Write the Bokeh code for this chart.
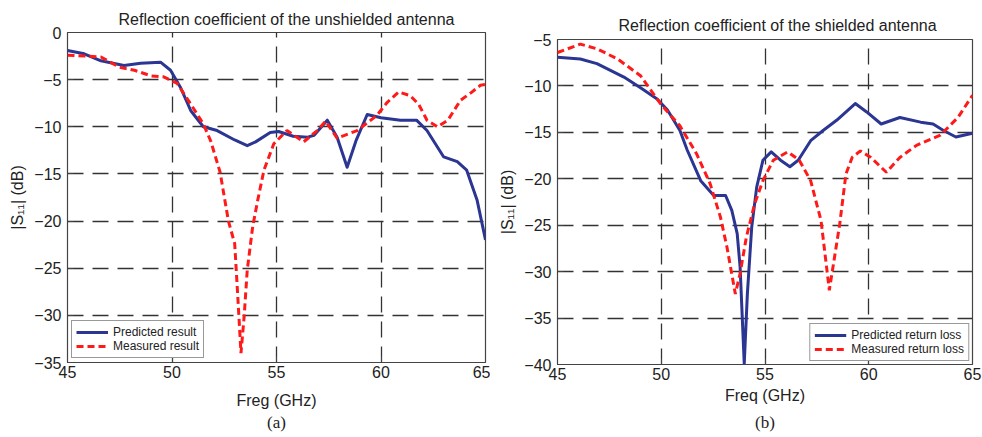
from bokeh.plotting import figure
from bokeh.models import Legend, LegendItem, Range1d, FixedTicker, LinearAxis
from bokeh.layouts import row
from bokeh.embed import file_html
from bokeh.resources import INLINE

# ---- data: (a) unshielded antenna ----
a_pred_f = [45.0, 45.8, 46.6, 47.7, 48.5, 49.45, 49.93, 50.4, 50.9, 51.5, 52.16, 53.0, 53.6,
            54.0, 54.7, 55.1, 55.8, 56.5, 56.8, 57.43, 57.9, 58.38, 58.8, 59.34, 60.0,
            60.93, 61.7, 62.2, 63.0, 63.65, 64.1, 64.6, 65.0]
a_pred_db = [-1.9, -2.26, -3.0, -3.5, -3.25, -3.15, -4.0, -5.8, -8.3, -10.0, -10.4, -11.4, -12.0,
             -11.6, -10.6, -10.5, -11.0, -11.1, -10.9, -9.3, -11.1, -14.3, -11.5, -8.7, -9.05,
             -9.3, -9.3, -10.4, -13.2, -13.7, -14.6, -17.8, -22.0]
a_meas_f = [45.0, 45.95, 46.6, 47.5, 48.2, 49.0, 49.6, 50.25, 50.9, 51.5, 51.85, 52.3, 52.7, 53.0,
            53.14, 53.3, 53.45, 53.6, 53.86, 54.1, 54.4, 54.87, 55.5, 56.3, 56.95, 57.35,
            57.9, 58.86, 59.8, 60.3, 60.85, 61.4, 61.8, 62.2, 62.7, 63.2, 63.8, 64.3, 64.76, 65.0]
a_meas_db = [-2.4, -2.5, -2.6, -3.7, -4.0, -4.6, -4.7, -5.4, -7.6, -9.7, -11.5, -14.8, -20.0, -22.4,
             -27.7, -34.0, -30.2, -25.2, -20.6, -17.8, -14.6, -11.8, -10.4, -11.6, -10.4, -9.4,
             -11.2, -10.4, -8.8, -7.4, -6.3, -6.7, -7.6, -9.3, -10.0, -9.3, -7.2, -6.4, -5.6, -5.5]

# ---- data: (b) shielded antenna ----
b_pred_f = [45.0, 46.1, 46.9, 48.2, 49.0, 49.8, 50.3, 50.9, 51.25, 51.9, 52.53, 53.1, 53.4, 53.66,
            53.8, 54.0, 54.15, 54.36, 54.6, 54.9, 55.3, 55.75, 56.2, 56.6, 57.2, 57.8, 58.45, 58.8,
            59.35, 59.9, 60.6, 61.5, 62.5, 63.1, 63.6, 64.2, 65.0]
b_pred_db = [-6.9, -7.1, -7.6, -9.05, -10.2, -11.4, -12.6, -14.8, -16.9, -20.2, -21.8, -21.8, -23.4, -25.9,
             -29.5, -39.9, -32.4, -25.2, -20.9, -18.0, -17.1, -18.0, -18.7, -18.0, -15.9, -14.8, -13.7, -13.0,
             -11.9, -12.8, -14.1, -13.4, -13.9, -14.1, -14.8, -15.5, -15.1]
b_meas_f = [45.0, 46.1, 46.9, 47.9, 49.0, 49.96, 50.9, 51.7, 52.35, 52.85, 53.17, 53.57, 53.8, 54.1,
            54.5, 54.9, 55.4, 56.1, 56.65, 57.2, 57.7, 58.1, 58.6, 58.9, 59.2, 59.6, 60.1, 60.85,
            61.5, 62.3, 63.45, 64.3, 65.0]
b_meas_db = [-6.4, -5.5, -6.0, -7.1, -8.9, -11.9, -14.3, -17.3, -20.5, -24.1, -27.4, -32.4, -30.2, -26.3,
             -22.7, -20.2, -18.0, -17.1, -18.0, -20.2, -24.5, -32.0, -24.9, -19.5, -17.7, -17.0, -17.7, -19.3,
             -17.7, -16.4, -15.3, -13.4, -11.0]

x_ticks = [45, 50, 55, 60, 65]
a_y_ticks = [0, -5, -10, -15, -20, -25, -30, -35]
b_y_ticks = [-5, -10, -15, -20, -25, -30, -35, -40]

titles = ["Reflection coefficient of the unshielded antenna", "Reflection coefficient of the shielded antenna"]
xlabels = ["Freg (GHz)", "Freq (GHz)"]
ylabel = "|S\u2081\u2081| (dB)"
panel_tags = ["(a)", "(b)"]
a_legend = ["Predicted result", "Measured result"]
b_legend = ["Predicted return loss", "Measured return loss"]

BLUE = "#2b3592"
RED = "#ff1a1a"
FONT = "Liberation Sans"
TXT = "#222222"


def make_fig(width, height, ml, mr, mt, mb, yr, yt, title, toff, tstand, xlabel, xls, tag, tagstand,
             pf, pd, mf, md, leg, legloc, legmargin):
    p = figure(width=width, height=height, output_backend="svg", toolbar_location=None,
               x_range=Range1d(45, 65), y_range=Range1d(*yr), frame_align=False,
               min_border_left=ml, min_border_right=mr, min_border_top=mt, min_border_bottom=mb)
    p.title.text = title
    p.title.text_font = FONT
    p.title.text_font_size = "16px"
    p.title.text_font_style = "normal"
    p.title.align = "left"
    p.title.offset = toff
    p.title.text_color = TXT
    p.title.standoff = tstand
    p.outline_line_color = "#444444"
    p.outline_line_width = 1.2
    p.background_fill_color = "white"
    p.border_fill_color = "white"
    for ax in (p.xaxis[0], p.yaxis[0]):
        ax.axis_line_color = None
        ax.major_tick_in = 6
        ax.major_tick_out = 0
        ax.minor_tick_line_color = None
        ax.major_tick_line_color = "#444444"
        ax.major_label_text_font = FONT
        ax.major_label_text_font_size = "16px"
        ax.major_label_text_color = TXT
        ax.axis_label_text_font = FONT
        ax.axis_label_text_font_size = "16px"
        ax.axis_label_text_font_style = "normal"
        ax.axis_label_text_color = TXT
    p.xaxis.ticker = FixedTicker(ticks=x_ticks)
    p.yaxis.ticker = FixedTicker(ticks=yt)
    p.yaxis.major_label_overrides = {t: ("\u2212%d" % -t if t < 0 else str(t)) for t in yt}
    p.xaxis.axis_label = xlabel
    p.yaxis.axis_label = ylabel
    p.xaxis.major_label_standoff = 3
    p.xaxis.axis_label_standoff = xls
    p.yaxis.major_label_standoff = 6
    p.yaxis.axis_label_standoff = 5
    for g in (p.xgrid[0], p.ygrid[0]):
        g.grid_line_color = "#333333"
        g.grid_line_dash = "16 9"
        g.grid_line_width = 1.3
    r1 = p.line(pf, pd, line_color=BLUE, line_width=3, line_join="round")
    r2 = p.line(mf, md, line_color=RED, line_width=3, line_dash="7 4")
    legend = Legend(items=[LegendItem(label=leg[0], renderers=[r1]), LegendItem(label=leg[1], renderers=[r2])],
                    location=legloc, margin=legmargin, padding=4, spacing=0,
                    label_text_font=FONT, label_text_font_size="12px", label_text_color=TXT,
                    glyph_width=32, glyph_height=12, label_height=12, label_standoff=5,
                    border_line_color="#333333", border_line_width=1.2, background_fill_alpha=1.0)
    p.add_layout(legend)
    # panel tag "(a)"/"(b)" as the label of a bare second bottom axis
    tag_axis = LinearAxis(ticker=FixedTicker(ticks=[]), axis_label=tag,
                          axis_label_text_font="Liberation Serif", axis_label_text_font_size="17px",
                          axis_label_text_font_style="normal", axis_label_text_color=TXT,
                          axis_label_standoff=tagstand, axis_line_color=None,
                          major_tick_in=0, major_tick_out=0, minor_tick_line_color=None,
                          major_tick_line_color=None, major_label_standoff=0,
                          major_label_text_font_size="0px")
    p.add_layout(tag_axis, "below")
    return p


pa = make_fig(490, 437, 67, 5, 32, 75, (-35, 0), a_y_ticks, titles[0], 51, 10, xlabels[0], 11,
              panel_tags[0], 1, a_pred_f, a_pred_db, a_meas_f, a_meas_db, a_legend, "bottom_left", 4)
pb = make_fig(492, 437, 67, 10, 39, 73, (-40, -5), b_y_ticks, titles[1], 61, 11, xlabels[1], 4,
              panel_tags[1], 6, b_pred_f, b_pred_db, b_meas_f, b_meas_db, b_legend, "bottom_right", 3)

layout = row(pa, pb)
open("out.html", "w").write(file_html(layout, INLINE))
